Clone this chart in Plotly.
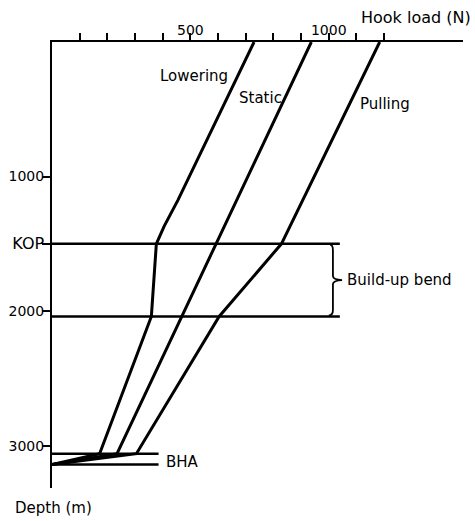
import plotly.graph_objects as go

# ---- data (hook load in N, depth in m) ----
lowering_load = [730, 455, 405, 377, 359, 172, 0]
lowering_depth = [0, 1175, 1370, 1500, 2040, 3060, 3140]
static_load = [937, 594, 468, 235, 0]
static_depth = [0, 1500, 2040, 3060, 3140]
pulling_load = [1184, 829, 604, 305, 0]
pulling_depth = [0, 1500, 2040, 3060, 3140]

kop_depth = 1500
bend_end_depth = 2040
bha_top_depth = 3060
bha_bottom_depth = 3140
section_line_load = 1040
bha_line_load = 385

x_tick_vals = [100, 200, 300, 400, 500, 600, 700, 800, 900, 1000, 1100, 1200]
x_tick_text = ["", "", "", "", "500", "", "", "", "", "1000", "", ""]
y_tick_vals = [1000, 1500, 2000, 3000]
y_tick_text = ["1000", "<span style='font-size:16px'>KOP</span>", "2000", "3000"]

FONT = "DejaVu Sans"
fig = go.Figure()

line_style = dict(color="black", width=3)
for load, depth in [(lowering_load, lowering_depth), (static_load, static_depth), (pulling_load, pulling_depth)]:
    fig.add_trace(go.Scatter(x=load, y=depth, mode="lines", line=line_style,
                             hoverinfo="skip", showlegend=False))

# horizontal section lines
for d in [kop_depth, bend_end_depth]:
    fig.add_trace(go.Scatter(x=[0, section_line_load], y=[d, d], mode="lines",
                             line=dict(color="black", width=2.5), showlegend=False, hoverinfo="skip"))
for d in [bha_top_depth, bha_bottom_depth]:
    fig.add_trace(go.Scatter(x=[0, bha_line_load], y=[d, d], mode="lines",
                             line=dict(color="black", width=2.5), showlegend=False, hoverinfo="skip"))

# brace for build-up bend
bx0 = section_line_load - 35
bx1 = section_line_load - 25
btip = section_line_load + 8
mid = (kop_depth + bend_end_depth) / 2
k = kop_depth + 8
e = bend_end_depth - 8
brace = (f"M {bx0},{k} Q {bx1},{k} {bx1},{k+40} L {bx1},{mid-30} "
         f"Q {bx1},{mid-3} {btip},{mid} Q {bx1},{mid+3} {bx1},{mid+30} "
         f"L {bx1},{e-40} Q {bx1},{e} {bx0-5},{e}")
fig.add_shape(type="path", path=brace, xref="x", yref="y",
              line=dict(color="black", width=1.8))

ann_font = dict(family=FONT, size=15, color="black")
fig.add_annotation(x=643, y=253, text="Lowering", showarrow=False, xanchor="right", yanchor="middle", font=ann_font)
fig.add_annotation(x=667, y=416, text="Static", showarrow=False, xanchor="left", yanchor="middle", font=ann_font)
fig.add_annotation(x=1105, y=461, text="Pulling", showarrow=False, xanchor="left", yanchor="middle", font=ann_font)
fig.add_annotation(x=section_line_load + 18, y=mid, text="Build-up bend", showarrow=False,
                   xanchor="left", yanchor="middle", font=ann_font)
fig.add_annotation(x=bha_line_load + 20, y=(bha_top_depth + bha_bottom_depth) / 2 + 20, text="BHA",
                   showarrow=False, xanchor="left", yanchor="middle", font=ann_font)
fig.add_annotation(x=1.0, y=1.0, xref="paper", yref="paper", xshift=10, yshift=25,
                   text="Hook load (N)", showarrow=False, xanchor="right", yanchor="middle",
                   font=dict(family=FONT, size=16, color="black"))
fig.add_annotation(x=0, y=0, xref="paper", yref="paper", xshift=-39, yshift=-20,
                   text="Depth (m)", showarrow=False, xanchor="left", yanchor="middle",
                   font=ann_font)

fig.update_xaxes(range=[0, 1485], side="top", showline=True, linewidth=2, linecolor="black",
                 ticks="outside", ticklen=7, tickwidth=1.5, tickcolor="black",
                 tickvals=x_tick_vals, ticktext=x_tick_text, showgrid=False, zeroline=False,
                 automargin=False, ticklabelstandoff=-8,
                 tickfont=dict(family=FONT, size=14, color="black"))
fig.update_yaxes(range=[3315, 0], showline=True, linewidth=2, linecolor="black",
                 ticks="outside", ticklen=8, tickwidth=1.5, tickcolor="black",
                 tickvals=y_tick_vals, ticktext=y_tick_text, showgrid=False, zeroline=False,
                 automargin=False, ticklabelstandoff=-5,
                 tickfont=dict(family=FONT, size=14, color="black"))

fig.update_layout(width=475, height=521, margin=dict(l=52, r=12, t=42, b=33),
                  plot_bgcolor="white", paper_bgcolor="white", showlegend=False)

fig.write_html("out.html", config={"displayModeBar": False},
               post_script="document.body.style.margin='0';")
